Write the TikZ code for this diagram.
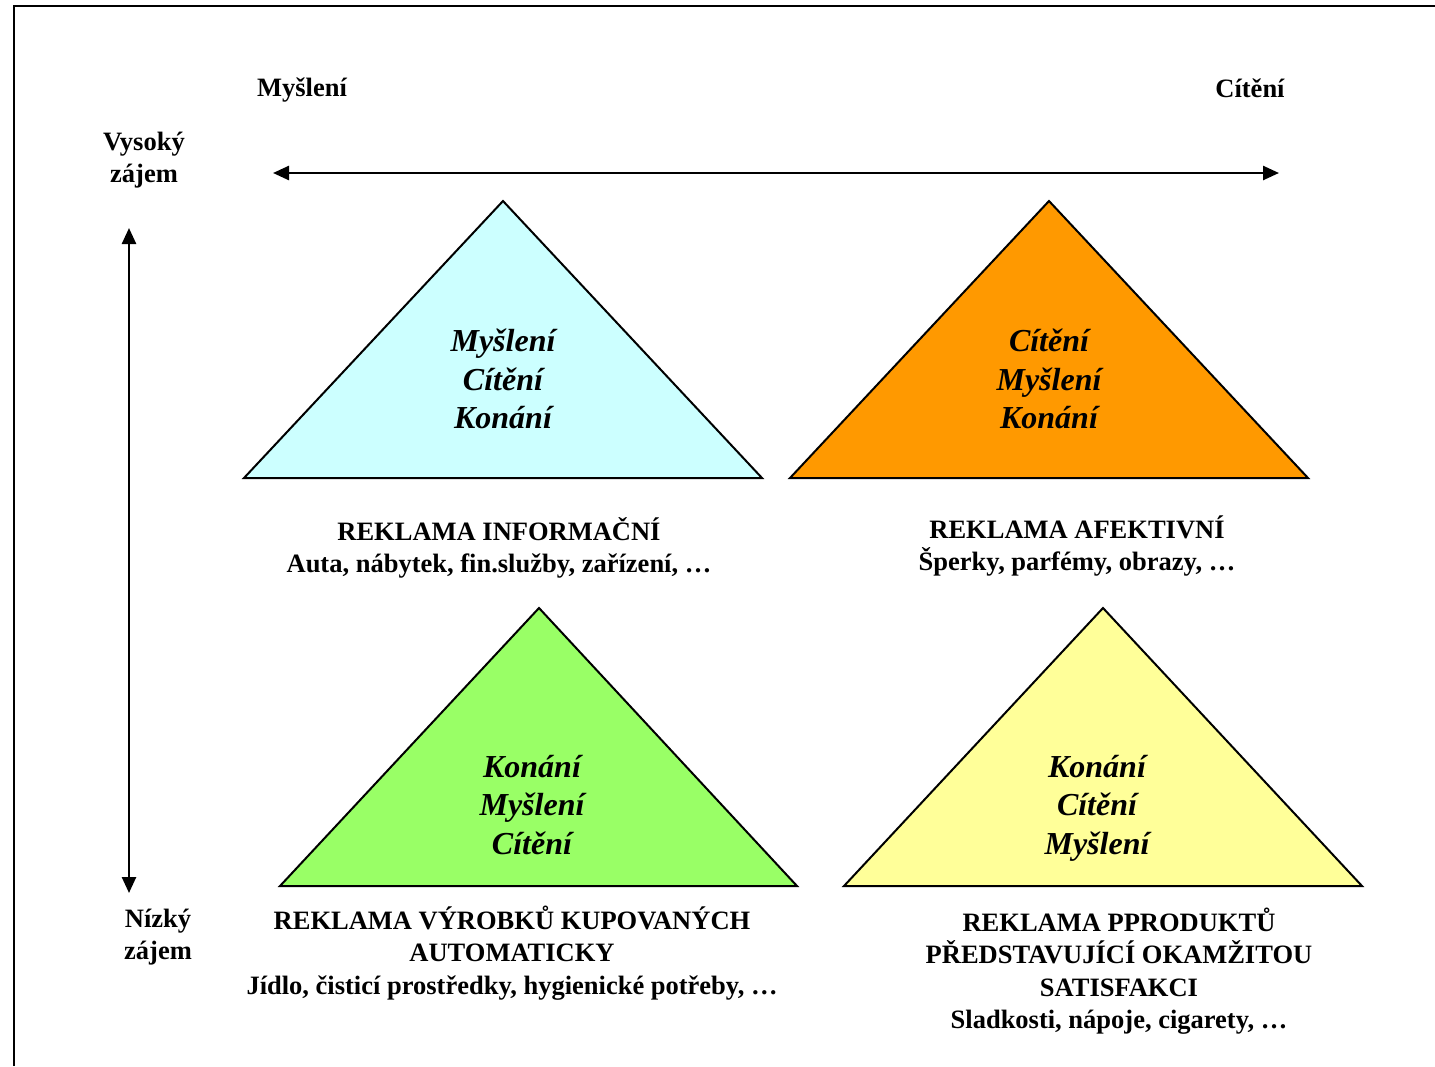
\documentclass[tikz,border=0pt]{standalone}
\usepackage{fontspec}
\setmainfont{Liberation Serif}
\usepackage{xcolor}
\usetikzlibrary{arrows.meta,positioning}

\definecolor{infocyan}{HTML}{CCFFFF}
\definecolor{afektorange}{HTML}{FF9900}
\definecolor{autogreen}{HTML}{99FF66}
\definecolor{satisyellow}{HTML}{FFFF99}

\tikzset{
	lbl/.style={font=\fontsize{26.5}{32.5}\selectfont\bfseries, align=center, inner sep=0pt},
	tri/.style={font=\fontsize{32}{38.5}\selectfont\bfseries\itshape, align=center, inner sep=0pt},
	trishape/.style={draw=black, line width=2pt, line join=miter},
	axis/.style={line width=2.5pt, {Triangle[length=16pt,width=14pt]}-{Triangle[length=16pt,width=14pt]}}
}

\begin{document}
\begin{tikzpicture}[x=1pt,y=-1pt]
		\useasboundingbox (0,0) rectangle (1435,1066);
		% frame
		\draw[line width=2pt] (14,1066) -- (14,6) -- (1435,6);
		% axis labels
		\node[lbl] (mysl) at (302,90) {Myšlení};
		\node[lbl] (cit) at (1250,88) {Cítění};
		\node[lbl] (vysoky) at (144,160) {Vysoký\\zájem};
		\node[lbl] (nizky) at (158,937) {Nízký\\zájem};
		\coordinate (hl) at (273,173);
		\coordinate (hr) at (1279,173);
		\coordinate (vt) at (129,228);
		\coordinate (vb) at (129,893);
		\draw[axis] (hl) -- (hr);
		\draw[axis] (vt) -- (vb);
		% triangles
		\draw[trishape, fill=infocyan] (503,201) -- (762,478) -- (244,478) -- cycle;
		\draw[trishape, fill=afektorange] (1049,201) -- (1308,478) -- (790,478) -- cycle;
		\draw[trishape, fill=autogreen] (539,608) -- (797,886) -- (280,886) -- cycle;
		\draw[trishape, fill=satisyellow] (1103,608) -- (1362,886) -- (844,886) -- cycle;
		% triangle texts
		\node[tri] (info) at (503,379) {Myšlení\\Cítění\\Konání};
		\node[tri] (afekt) at (1049,379) {Cítění\\Myšlení\\Konání};
		\node[tri] (auto) at (532,805) {Konání\\Myšlení\\Cítění};
		\node[tri] (satis) at (1097,808) {Konání\\Cítění\\Myšlení};
		% captions
		\node[lbl] (infocap) at (499,548) {REKLAMA INFORMAČNÍ\\Auta, nábytek, fin.služby, zařízení, …};
		\node[lbl] (afektcap) at (1077,546) {REKLAMA AFEKTIVNÍ\\Šperky, parfémy, obrazy, …};
		\node[lbl] (autocap) at (512,953) {REKLAMA VÝROBKŮ KUPOVANÝCH\\AUTOMATICKY\\Jídlo, čisticí prostředky, hygienické potřeby, …};
		\node[lbl] (satiscap) at (1119,971) {REKLAMA PPRODUKTŮ\\PŘEDSTAVUJÍCÍ OKAMŽITOU\\SATISFAKCI\\Sladkosti, nápoje, cigarety, …};
\end{tikzpicture}
\end{document}
